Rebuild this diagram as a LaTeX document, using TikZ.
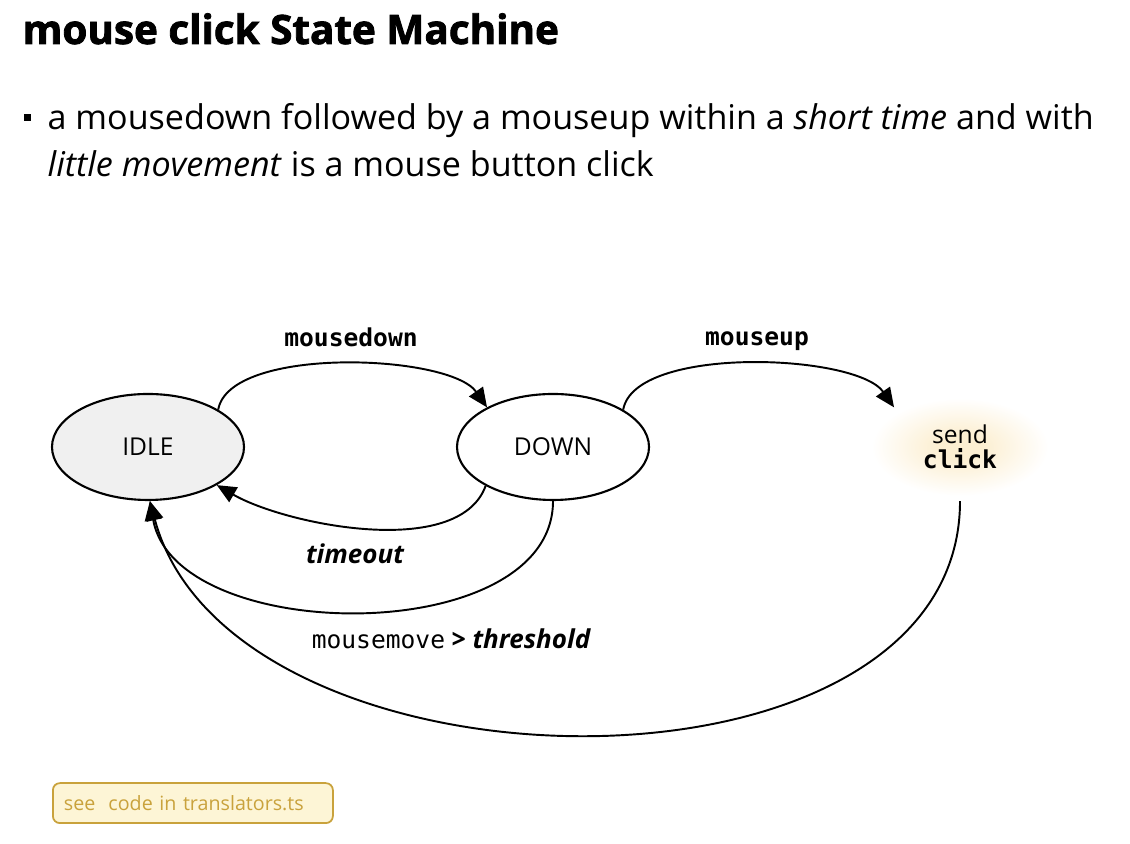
\documentclass[tikz,border=0pt]{standalone}
\usepackage{fontspec}
\setmainfont{Open Sans}
\setmonofont{DejaVu Sans Mono}
\newfontfamily\titlefont{Open Sans}[BoldFeatures={FakeBold=2}]
\usetikzlibrary{shapes,arrows.meta,positioning}
\definecolor{idlegray}{RGB}{240,240,240}
\definecolor{glowc}{RGB}{252,239,210}
\definecolor{notefill}{RGB}{253,245,214}
\definecolor{noteline}{RGB}{201,162,60}
\pgfdeclareradialshading{sendglow}{\pgfpoint{0bp}{0bp}}{color(0bp)=(glowc); color(6bp)=(glowc); color(23bp)=(white); color(50bp)=(white)}

\begin{document}
\begin{tikzpicture}[every node/.style = {inner sep = 0pt},
  state/.style = {ellipse, draw, line width = 0.6pt, minimum width = 1.92cm, minimum height = 1.06cm, font = \fontsize{7}{8}\selectfont},
  trans/.style = {-{Triangle[length = 5.5pt, width = 4.8pt]}, line width = 0.55pt},
  evt/.style = {font = \fontsize{7}{8}\selectfont}]
\useasboundingbox (0,0) rectangle (11.3,8.44);
\node[anchor = base west, font = \fontsize{11.5}{14}\titlefont\bfseries] (title) at (0.22,8.0) {mouse click State Machine};
\fill (0.235,7.225) rectangle (0.305,7.295);
\node[anchor = base west, font = \fontsize{9.7}{12}\selectfont] (line1) at (0.47,7.14) {a mousedown followed by a mouseup within a \textit{short time} and with};
\node[anchor = base west, font = \fontsize{9.7}{12}\selectfont] (line2) at (0.47,6.67) {\textit{little movement} is a mouse button click};
  \node[state, fill = idlegray] (idle) at (1.48,3.97) {IDLE};
  \node[state] (down) at (5.53,3.97) {DOWN};
  \node[state, draw = none, shading = sendglow, align = center] (send) at (9.60,3.97) {send\\[-1pt]\texttt{\bfseries click}};
     \node[evt] (l;down) at (3.51,5.07) {\texttt{\bfseries mousedown}};
     \node[evt] (l;up) at (7.57,5.03) {\texttt{\bfseries mouseup}};
     \node[evt] (l;out) at (3.55,2.90) {\fontsize{7.4}{8}\selectfont\bfseries\itshape timeout};
     \node[evt] (l;move) at (4.51,2.05) {\texttt{mousemove} \fontsize{7.4}{8}\selectfont\bfseries\itshape > threshold};
\draw[trans] (idle.28) to[out = 80, in = 125, looseness = 0.62] (down.149);
\draw[trans] (down.28) to[out = 80, in = 125, looseness = 0.62] (send.149);
\draw[trans] (down.210) to[out = -110, in = -30, looseness = 0.75] (idle.331);
\draw[trans] (down.270) to[out = -90, in = -80, looseness = 0.94] (idle.272);
\draw[trans] (send.270) to[out = -90, in = -75, looseness = 1.0] (idle.272);
\node[draw = noteline, fill = notefill, rounded corners = 2pt, line width = 0.5pt, minimum width = 2.8cm, minimum height = 0.4cm, inner xsep = 0.11cm, anchor = south west, text = noteline, font = \fontsize{5.6}{7}\selectfont, text width = 2.58cm, align = left] (note) at (0.52,0.20) {see\ \ code in translators.ts};
\end{tikzpicture}
\end{document}
